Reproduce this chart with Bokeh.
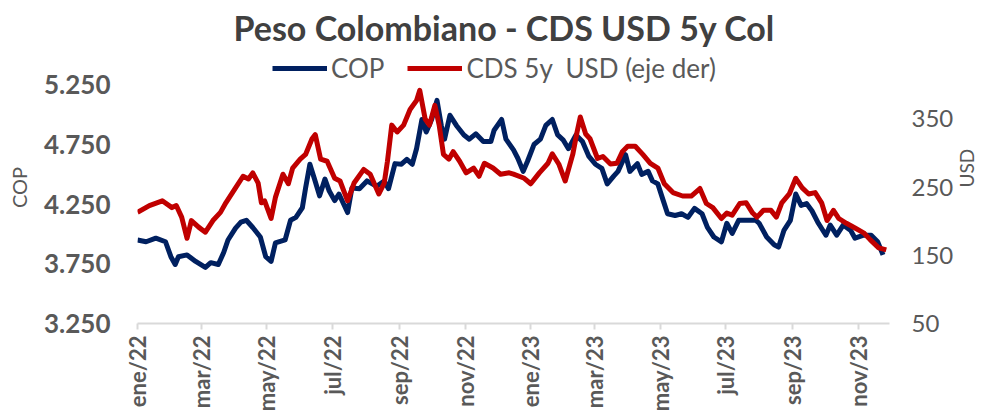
from math import pi
import pandas as pd
from bokeh.plotting import figure
from bokeh.models import Range1d, LinearAxis, FixedTicker, Legend, LegendItem
from bokeh.embed import file_html
from bokeh.resources import INLINE

# ---------------- data ----------------
start_date = "2022-01-01"          # day 0 of the x axis
end_day = 698                      # last day shown on the axis

cop_day = [0, 8, 17, 26, 31, 35, 38, 46, 54, 63, 68, 75, 80, 84, 91, 96, 101, 107, 114, 119,
           124, 128, 137, 142, 147, 153, 156, 160, 164, 169, 174, 178, 183, 187, 195, 199, 206,
           213, 222, 229, 233, 239, 245, 250, 255, 259, 264, 268, 273, 278, 282, 285, 290, 296,
           303, 308, 314, 321, 328, 331, 338, 342, 349, 353, 358, 362, 368, 374, 379, 385, 390,
           395, 400, 407, 413, 419, 425, 431, 436, 442, 446, 453, 457, 464, 468, 474, 478, 483,
           488, 492, 499, 505, 511, 517, 524, 529, 535, 542, 547, 552, 558, 566, 574, 577, 584,
           591, 595, 600, 606, 611, 616, 621, 626, 632, 639, 643, 649, 655, 662, 666, 674, 681,
           687, 692]
cop_value = [3950, 3935, 3965, 3935, 3810, 3745, 3810, 3825, 3770, 3720, 3760, 3745, 3845, 3950,
             4050, 4100, 4115, 4055, 3975, 3810, 3770, 3925, 3950, 4115, 4140, 4220, 4385, 4585,
             4470, 4320, 4460, 4360, 4280, 4335, 4180, 4385, 4380, 4445, 4400, 4445, 4380, 4590,
             4585, 4625, 4585, 4715, 4960, 4855, 4960, 5120, 4910, 4795, 4995, 4910, 4830, 4795,
             4840, 4775, 4775, 4870, 4960, 4795, 4705, 4635, 4525, 4610, 4750, 4795, 4910, 4960,
             4830, 4790, 4715, 4830, 4775, 4650, 4585, 4550, 4420, 4485, 4525, 4665, 4525, 4590,
             4500, 4525, 4445, 4420, 4280, 4170, 4155, 4170, 4140, 4215, 4170, 4055, 3975, 3935,
             4090, 4005, 4115, 4115, 4115, 4090, 3975, 3910, 3890, 4030, 4115, 4335, 4240, 4255,
             4195, 4090, 3990, 4075, 3990, 4075, 4030, 3965, 3990, 3990, 3935, 3825]

cds_day = [0, 11, 23, 32, 36, 41, 46, 50, 57, 63, 70, 77, 82, 91, 98, 103, 107, 112, 115, 118,
           124, 128, 135, 140, 144, 151, 156, 162, 165, 170, 176, 183, 188, 195, 201, 210, 216,
           224, 229, 232, 236, 241, 247, 253, 259, 262, 267, 271, 276, 280, 284, 289, 293, 299,
           305, 312, 317, 322, 330, 337, 345, 349, 359, 365, 373, 381, 385, 391, 397, 404, 408,
           411, 416, 420, 427, 432, 439, 445, 450, 455, 462, 469, 476, 483, 489, 497, 506, 514,
           522, 528, 534, 542, 547, 552, 559, 565, 571, 575, 581, 588, 593, 598, 605, 611, 617,
           623, 629, 635, 640, 646, 651, 658, 666, 674, 680, 688, 695]
cds_value = [213, 223, 230, 220, 223, 206, 175, 201, 191, 184, 201, 213, 227, 249, 266, 262, 271,
             256, 227, 230, 204, 235, 269, 255, 278, 291, 298, 321, 327, 291, 288, 263, 259, 230,
             256, 276, 269, 240, 256, 288, 341, 331, 341, 364, 377, 392, 350, 341, 370, 341, 298,
             291, 302, 288, 271, 278, 266, 285, 278, 269, 271, 269, 263, 255, 271, 285, 299, 284,
             259, 298, 331, 353, 328, 321, 292, 295, 284, 285, 302, 310, 310, 298, 285, 278, 255,
             242, 237, 237, 248, 226, 220, 204, 212, 209, 226, 227, 212, 206, 216, 216, 206, 227,
             240, 263, 249, 240, 242, 227, 201, 216, 204, 197, 190, 183, 173, 161, 158]

cop_ticks = [3250, 3750, 4250, 4750, 5250]
cop_tick_labels = ["3.250", "3.750", "4.250", "4.750", "5.250"]
cds_ticks = [50, 150, 250, 350]
cop_axis = (3250, 5250)            # COP axis: bottom value .. value at top of the tick area
cds_axis = (50, 400)               # USD axis (eje der)
month_labels = ["ene/22", "mar/22", "may/22", "jul/22", "sep/22", "nov/22",
                "ene/23", "mar/23", "may/23", "jul/23", "sep/23", "nov/23"]

title_text = "Peso Colombiano - CDS USD 5y Col"
cop_name = "COP"
cds_name = "CDS 5y  USD (eje der)"

# ---------------- layout ----------------
W, H = 992, 414
FRAME_L, FRAME_R, FRAME_T, FRAME_B = 137, 897, 48, 325
AXIS_TOP = 82                       # pixel row of the top tick (5.250 / 400)
# extend ranges above the top tick so the legend fits inside the frame
ext = (AXIS_TOP - FRAME_T) / (FRAME_B - AXIS_TOP)
cop_top = cop_axis[1] + (cop_axis[1] - cop_axis[0]) * ext
cds_top = cds_axis[1] + (cds_axis[1] - cds_axis[0]) * ext

t0 = pd.Timestamp(start_date)
month_starts = pd.date_range(start_date, periods=len(month_labels), freq="2MS")
month_pos = [int((m - t0).days) for m in month_starts]

FONT = "Lato"
GREY = "#595959"
BLUE = "#002060"
RED = "#C00000"

p = figure(width=W, height=H, output_backend="svg", toolbar_location=None,
           x_range=Range1d(0, end_day), y_range=Range1d(cop_axis[0], cop_top),
           min_border_left=FRAME_L, min_border_right=W - FRAME_R,
           min_border_top=FRAME_T, min_border_bottom=H - FRAME_B)
p.extra_y_ranges = {"cds": Range1d(cds_axis[0], cds_top)}
p.outline_line_color = None
p.xgrid.visible = False
p.ygrid.visible = False
p.background_fill_color = "white"
p.border_fill_color = "white"

p.title.text = title_text
p.title.align = "left"
p.title.offset = 96
p.title.text_font = FONT
p.title.text_font_style = "bold"
p.title.text_font_size = "34px"
p.title.text_color = "#404040"
p.title.standoff = 8

r_cop = p.line(cop_day, cop_value, line_width=5, color=BLUE, line_join="round")
r_cds = p.line(cds_day, cds_value, line_width=5, color=RED, line_join="round",
               y_range_name="cds")

# x axis
xa = p.xaxis[0]
xa.ticker = FixedTicker(ticks=month_pos)
xa.major_label_overrides = {pos: lab for pos, lab in zip(month_pos, month_labels)}
xa.major_label_orientation = pi / 2
xa.major_label_text_font = FONT
xa.major_label_text_font_style = "bold"
xa.major_label_text_font_size = "22px"
xa.major_label_text_color = GREY
xa.major_label_standoff = 6
xa.axis_line_color = "#d9d9d9"
xa.axis_line_width = 2
xa.major_tick_line_color = "#d9d9d9"
xa.major_tick_line_width = 2
xa.major_tick_out = 6
xa.major_tick_in = 0
xa.minor_tick_line_color = None

# left axis
ya = p.yaxis[0]
ya.ticker = FixedTicker(ticks=cop_ticks)
ya.major_label_overrides = {t: l for t, l in zip(cop_ticks, cop_tick_labels)}
ya.major_label_text_font = FONT
ya.major_label_text_font_style = "bold"
ya.major_label_text_font_size = "26px"
ya.major_label_text_color = GREY
ya.major_label_standoff = 27
ya.axis_line_color = None
ya.major_tick_line_color = None
ya.major_tick_out = 0
ya.major_tick_in = 0
ya.minor_tick_line_color = None
ya.axis_label = cop_name
ya.axis_label_text_font = FONT
ya.axis_label_text_font_style = "normal"
ya.axis_label_text_font_size = "20px"
ya.axis_label_text_color = GREY
ya.axis_label_standoff = 10

# right axis
ra = LinearAxis(y_range_name="cds", ticker=FixedTicker(ticks=cds_ticks))
ra.major_label_text_font = FONT
ra.major_label_text_font_size = "24px"
ra.major_label_text_color = GREY
ra.major_label_standoff = 22
ra.axis_line_color = None
ra.major_tick_line_color = None
ra.major_tick_out = 0
ra.major_tick_in = 0
ra.minor_tick_line_color = None
ra.axis_label = "USD"
ra.axis_label_text_font = FONT
ra.axis_label_text_font_style = "normal"
ra.axis_label_text_font_size = "19px"
ra.axis_label_text_color = GREY
ra.axis_label_standoff = 10
ra.axis_label_orientation = pi / 2
p.add_layout(ra, "right")

legend = Legend(items=[LegendItem(label=cop_name, renderers=[r_cop]),
                       LegendItem(label=cds_name, renderers=[r_cds])],
                orientation="horizontal", location=(135, 239),
                label_text_font=FONT, label_text_font_size="26px", label_text_color=GREY,
                glyph_width=55, glyph_height=20, label_standoff=4, spacing=23,
                padding=0, margin=0, border_line_color=None, background_fill_alpha=0)
p.add_layout(legend, "center")

open("out.html", "w").write(file_html(p, INLINE))
